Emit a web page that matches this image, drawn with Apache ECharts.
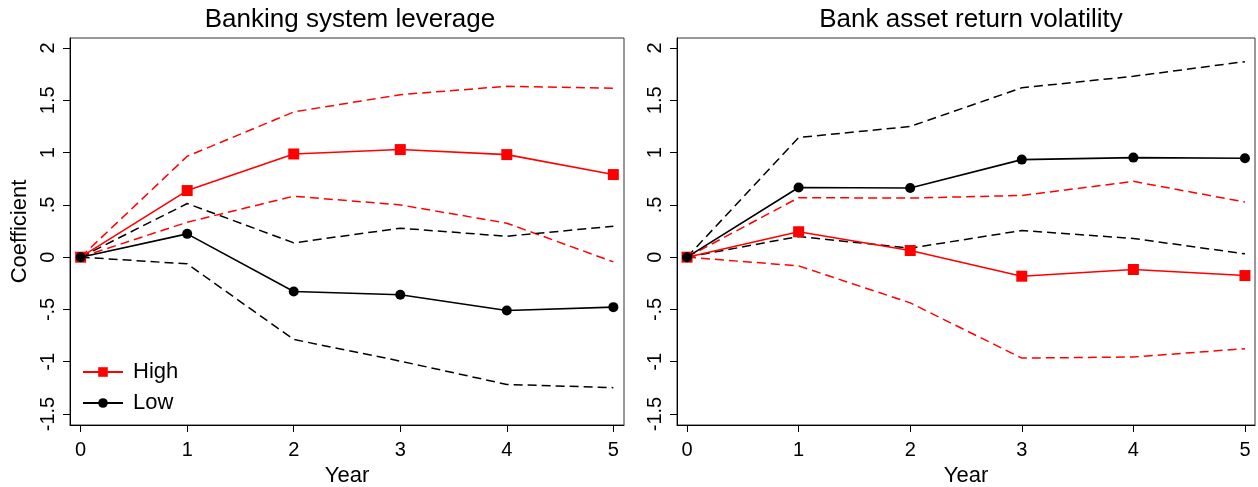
<!DOCTYPE html>
<html>
<head>
<meta charset="utf-8">
<script src="https://cdn.jsdelivr.net/npm/echarts@6/dist/echarts.min.js"></script>
<style>
html,body{margin:0;padding:0;background:#fff;}
#chart{width:1258px;height:487px;}
</style>
</head>
<body>
<div id="chart"></div>
<script>
// ---- Data ----
var years = [0, 1, 2, 3, 4, 5];
var yTicks = [-1.5, -1, -0.5, 0, 0.5, 1, 1.5, 2];

// Panel 1: Banking system leverage
var levHigh      = [0, 0.637, 0.987, 1.029, 0.981, 0.790];
var levHighUpper = [0, 0.965, 1.389, 1.554, 1.634, 1.615];
var levHighLower = [0, 0.334, 0.583, 0.500, 0.325, -0.045];
var levLow       = [0, 0.223, -0.328, -0.360, -0.510, -0.478];
var levLowUpper  = [0, 0.513, 0.137, 0.277, 0.200, 0.296];
var levLowLower  = [0, -0.064, -0.787, -0.994, -1.217, -1.248];

// Panel 2: Bank asset return volatility
var volHigh      = [0, 0.243, 0.064, -0.182, -0.118, -0.176];
var volHighUpper = [0, 0.569, 0.565, 0.590, 0.725, 0.527];
var volHighLower = [0, -0.083, -0.437, -0.965, -0.955, -0.875];
var volLow       = [0, 0.666, 0.662, 0.933, 0.952, 0.946];
var volLowUpper  = [0, 1.144, 1.250, 1.620, 1.730, 1.870];
var volLowLower  = [0, 0.198, 0.086, 0.255, 0.179, 0.032];

var titles = ['Banking system leverage', 'Bank asset return volatility'];

// ---- Helpers ----
function pts(arr) { return years.map(function (x, i) { return [x, arr[i]]; }); }
var FONT = '"Liberation Sans", Arial, Helvetica, sans-serif';
var RED = '#ff0000', BLACK = '#000000';

function dashed(name, arr, color, idx) {
  return {
    name: name, type: 'line', xAxisIndex: idx, yAxisIndex: idx,
    data: pts(arr), symbol: 'none', silent: true,
    lineStyle: { color: color, width: 1.5, type: [9, 5] },
    z: 2
  };
}
function main(name, arr, color, symbol, size, idx, z) {
  return {
    name: name, type: 'line', xAxisIndex: idx, yAxisIndex: idx,
    data: pts(arr), symbol: symbol, symbolSize: size,
    itemStyle: { color: color }, lineStyle: { color: color, width: 1.6 },
    z: z
  };
}
function xAxis(idx, min, max) {
  return {
    type: 'value', gridIndex: idx, min: min, max: max,
    name: 'Year', nameLocation: 'middle', nameGap: 37,
    nameTextStyle: { fontFamily: FONT, fontSize: 22, color: '#000' },
    axisLine: { show: true, onZero: false, lineStyle: { color: '#000', width: 1 } },
    axisTick: { show: true, length: 7, customValues: years, lineStyle: { color: '#000' } },
    axisLabel: { customValues: years, fontFamily: FONT, fontSize: 20, color: '#000', margin: 15 },
    splitLine: { show: false }
  };
}
function yAxis(idx, withName) {
  var a = {
    type: 'value', gridIndex: idx, min: -1.605, max: 2.096,
    axisLine: { show: true, onZero: false, lineStyle: { color: '#000', width: 1 } },
    axisTick: { show: true, length: 7, customValues: yTicks, lineStyle: { color: '#000' } },
    axisLabel: {
      customValues: yTicks, rotate: 90, fontFamily: FONT, fontSize: 20, color: '#000', margin: 12,
      formatter: function (v) { return String(v).replace(/^(-?)0\./, '$1.'); }
    },
    splitLine: { show: false }
  };
  if (withName) {
    a.name = 'Coefficient';
    a.nameLocation = 'middle';
    a.nameGap = 39;
    a.nameTextStyle = { fontFamily: FONT, fontSize: 22, color: '#000' };
  }
  return a;
}

var option = {
  backgroundColor: '#fff',
  animation: false,
  title: [
    { text: titles[0], left: 345, top: 2, textAlign: 'center',
      textStyle: { fontFamily: FONT, fontSize: 26, fontWeight: 'normal', color: '#000' } },
    { text: titles[1], left: 966, top: 2, textAlign: 'center',
      textStyle: { fontFamily: FONT, fontSize: 26, fontWeight: 'normal', color: '#000' } }
  ],
  legend: {
    data: ['High', 'Low'], orient: 'vertical', left: 77, top: 356,
    itemWidth: 40, itemHeight: 12, itemGap: 9,
    textStyle: { fontFamily: FONT, fontSize: 22, color: '#000', padding: [0, 0, 0, 5] },
    selectedMode: false
  },
  grid: [
    { left: 70, top: 38, width: 554, height: 387, show: true, borderColor: '#333', borderWidth: 1,
      containLabel: false, outerBoundsMode: 'none' },
    { left: 677, top: 38, width: 578, height: 387, show: true, borderColor: '#333', borderWidth: 1,
      containLabel: false, outerBoundsMode: 'none' }
  ],
  xAxis: [xAxis(0, -0.1, 5.1), xAxis(1, -0.09, 5.09)],
  yAxis: [yAxis(0, true), yAxis(1, false)],
  series: [
    dashed('High upper', levHighUpper, RED, 0),
    dashed('High lower', levHighLower, RED, 0),
    dashed('Low upper', levLowUpper, BLACK, 0),
    dashed('Low lower', levLowLower, BLACK, 0),
    main('High', levHigh, RED, 'rect', 11, 0, 3),
    main('Low', levLow, BLACK, 'circle', 10, 0, 4),

    dashed('High upper ', volHighUpper, RED, 1),
    dashed('High lower ', volHighLower, RED, 1),
    dashed('Low upper ', volLowUpper, BLACK, 1),
    dashed('Low lower ', volLowLower, BLACK, 1),
    main('High ', volHigh, RED, 'rect', 11, 1, 3),
    main('Low ', volLow, BLACK, 'circle', 10, 1, 4)
  ]
};

var chart = echarts.init(document.getElementById('chart'), null, { renderer: 'canvas' });
chart.setOption(option);
</script>
</body>
</html>
